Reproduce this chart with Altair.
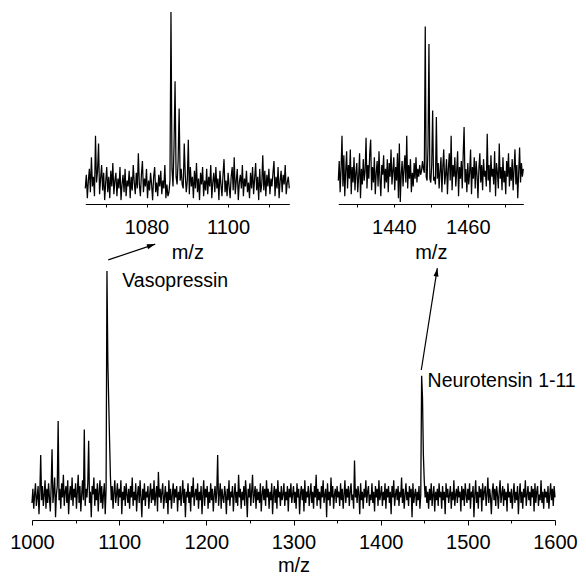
import math
import altair as alt
import pandas as pd

# ---------------- data ----------------
# main spectrum: m/z 1000..1600, one reading per m/z unit
MAIN_START = 1000
MAIN_STEP = 1.0
main_intensity = [
    6, 11, 4, 9, 13, 5, 8, 12, 2, 10,
    23, 7, 12, 5, 9, 14, 4, 11, 6, 13,
    8, 3, 12, 25, 6, 10, 15, 1, 9, 12,
    35, 7, 11, 4, 13, 8, 16, 5, 10, 12,
    6, 14, 2, 9, 12, 7, 15, 5, 11, 8,
    13, 4, 10, 16, 6, 12, 3, 9, 14, 7,
    32, 5, 11, 8, 13, 28, 6, 10, 1, 12,
    9, 15, 5, 11, 7, 13, 3, 10, 14, 6,
    12, 4, 9, 13, 2, 11, 88, 56, 42, 28,
    15, 7, 12, 4, 10, 14, 6, 9, 13, 5,
    11, 8, 14, 2, 10, 7, 12, 5, 13, 9,
    6, 11, 4, 12, 8, 15, 5, 10, 7, 13,
    3, 9, 12, 6, 14, 8, 1, 11, 7, 13,
    5, 10, 8, 12, 4, 9, 13, 6, 11, 7,
    14, 5, 9, 12, 3, 17, 8, 11, 6, 10,
    13, 4, 8, 12, 6, 10, 2, 14, 7, 11,
    4, 9, 13, 6, 11, 8, 12, 3, 10, 7,
    12, 5, 9, 14, 6, 11, 1, 10, 8, 13,
    6, 10, 3, 12, 8, 15, 5, 9, 11, 7,
    13, 4, 10, 7, 12, 2, 9, 14, 5, 11,
    8, 12, 4, 10, 6, 13, 7, 11, 3, 9,
    12, 6, 10, 23, 5, 9, 13, 4, 11, 8,
    6, 12, 9, 2, 11, 7, 14, 5, 10, 8,
    12, 3, 9, 13, 6, 10, 5, 16, 8, 11,
    4, 10, 7, 12, 5, 14, 9, 1, 11, 8,
    13, 5, 10, 16, 6, 9, 12, 4, 11, 7,
    10, 6, 13, 3, 9, 12, 7, 11, 5, 14,
    8, 11, 4, 10, 7, 13, 2, 9, 12, 6,
    11, 4, 14, 8, 10, 5, 12, 7, 9, 13,
    5, 10, 7, 12, 3, 11, 8, 13, 6, 9,
    12, 6, 10, 4, 13, 8, 11, 2, 9, 12,
    7, 11, 3, 14, 6, 10, 8, 12, 5, 9,
    13, 6, 10, 4, 12, 8, 16, 5, 11, 7,
    10, 4, 12, 8, 14, 6, 9, 11, 1, 13,
    7, 10, 5, 15, 8, 12, 4, 9, 11, 6,
    12, 8, 10, 5, 13, 7, 11, 4, 9, 14,
    6, 11, 8, 12, 5, 10, 13, 7, 9, 4,
    21, 8, 11, 6, 12, 9, 2, 13, 7, 10,
    4, 11, 8, 14, 6, 10, 12, 5, 9, 7,
    13, 6, 10, 3, 12, 8, 11, 5, 14, 7,
    9, 12, 5, 10, 7, 13, 4, 11, 8, 12,
    6, 10, 2, 12, 8, 14, 5, 9, 11, 7,
    12, 5, 10, 8, 15, 6, 11, 4, 9, 13,
    7, 10, 5, 12, 8, 11, 1, 13, 6, 9,
    11, 5, 10, 7, 12, 4, 9, 51, 43, 23,
    14, 8, 12, 6, 10, 4, 11, 7, 13, 5,
    9, 12, 3, 10, 7, 11, 5, 13, 8, 10,
    4, 12, 7, 10, 2, 13, 8, 11, 6, 9,
    12, 4, 10, 7, 14, 5, 9, 11, 6, 12,
    8, 10, 3, 12, 7, 11, 5, 13, 9, 6,
    11, 7, 13, 4, 10, 8, 12, 1, 9, 14,
    6, 10, 4, 12, 8, 11, 3, 13, 7, 10,
    12, 5, 9, 15, 6, 11, 8, 2, 10, 13,
    7, 11, 5, 12, 9, 4, 10, 14, 6, 9,
    12, 5, 11, 7, 10, 3, 13, 8, 10, 6,
    11, 4, 9, 13, 6, 10, 7, 12, 2, 9,
    13, 6, 10, 4, 11, 8, 14, 5, 9, 12,
    7, 10, 5, 12, 8, 11, 3, 13, 6, 10,
    12, 5, 9, 7, 14, 6, 10, 4, 11, 8,
    10, 6, 12, 4, 9, 13, 7, 11, 5, 12,
    8,
]

# inset 1: m/z 1065..1115, reading every 0.25 m/z
INSET1_START = 1065
INSET_STEP = 0.25
inset1_intensity = [
    8, 15, 3, 12, 18, 6, 24, 9, 14, 4, 35, 11, 17, 31, 5, 13, 20, 7, 16, 2,
    11, 19, 6, 14, 3, 17, 9, 21, 5, 12, 16, 4, 13, 8, 19, 2, 10, 15, 6, 18,
    4, 12, 9, 17, 3, 14, 7, 20, 11, 5, 16, 8, 26, 10, 4, 15, 22, 6, 13, 9,
    18, 3, 12, 7, 16, 10, 2, 14, 19, 6, 11, 4, 15, 9, 17, 5, 12, 8, 20, 3,
    10, 4, 6, 12, 98.5, 18, 9, 30, 63, 14, 10, 22, 49, 12, 18, 10, 8, 31, 15, 6,
    12, 33, 5, 19, 9, 14, 3, 17, 8, 21, 6, 13, 2, 16, 10, 19, 4, 12, 7, 18,
    5, 14, 9, 20, 3, 11, 16, 6, 19, 8, 13, 2, 17, 10, 4, 15, 23, 6, 12, 4,
    16, 9, 3, 14, 19, 7, 24, 5, 12, 18, 2, 11, 15, 8, 20, 4, 13, 9, 17, 6,
    11, 3, 16, 8, 19, 5, 13, 21, 7, 14, 2, 18, 6, 10, 25, 7, 17, 4, 15, 9,
    18, 5, 13, 9, 16, 22, 4, 14, 8, 19, 3, 12, 17, 6, 15, 10, 20, 5, 11, 14,
    8,
]

# inset 2: m/z 1425..1475, reading every 0.25 m/z
INSET2_START = 1425
inset2_intensity = [
    12, 22, 6, 18, 35, 9, 25, 4, 17, 27, 8, 20, 13, 28, 5, 19, 11, 24, 7, 16,
    21, 6, 14, 26, 3, 18, 10, 23, 12, 17, 34, 8, 20, 13, 26, 33, 7, 19, 11, 24,
    5, 16, 22, 9, 27, 13, 4, 20, 15, 25, 8, 18, 11, 23, 6, 21, 14, 28, 10, 17,
    24, 7, 19, 12, 26, 3, 31, 1, 15, 22, 9, 18, 25, 11, 35, 8, 20, 13, 23, 6,
    16, 9, 21, 13, 24, 11, 18, 14, 20, 15, 17, 22, 18, 16, 91, 14, 12, 30, 82, 13,
    11, 20, 48, 12, 14, 10, 44.6, 13, 21, 8, 17, 24, 6, 19, 28, 10, 15, 23, 5, 18,
    26, 12, 35, 7, 20, 14, 24, 9, 17, 27, 4, 19, 13, 22, 8, 25, 39.5, 11, 18, 6,
    21, 10, 16, 28, 5, 19, 13, 24, 8, 22, 15, 3, 18, 26, 11, 20, 7, 23, 14, 17,
    9, 36, 12, 20, 6, 25, 14, 18, 10, 27, 4, 21, 16, 8, 31, 13, 19, 7, 24, 11,
    17, 5, 22, 14, 26, 9, 19, 12, 23, 7, 18, 28, 10, 20, 3, 16, 29, 11, 21, 14,
    18,
]

# annotations (m/z, intensity in main-plot units)
label_text = ["Vasopressin", "Neurotensin 1-11"]
label_mz = [1103.6, 1453.8]
label_int = [82.3, 47.0]

arrow_mz = [1087.5, 1446.6]
arrow_int = [91.9, 53.0]
arrow_mz2 = [1141.4, 1465.0]
arrow_int2 = [97.5, 89.0]

main_ticks = [1000, 1050, 1100, 1150, 1200, 1250, 1300, 1350, 1400, 1450, 1500, 1550, 1600]
inset1_ticks = [1070, 1080, 1090, 1100, 1110]
inset2_ticks = [1430, 1440, 1450, 1460, 1470]

# ---------------- layout / style ----------------
FONT = "Liberation Sans"
MAIN_W, MAIN_H = 523, 283
IN_H = 195
IN1_RANGE = [53.3, 257.3]   # pixel span of inset 1 inside the top panel
IN2_RANGE = [306.3, 491.3]  # pixel span of inset 2 inside the top panel
MAIN_DOMAIN = [1000, 1600]
IN1_DOMAIN = [1065, 1115]
IN2_DOMAIN = [1425, 1475]
Y_DOMAIN = [0, 100]

main_df = pd.DataFrame({
    "mz": [MAIN_START + MAIN_STEP * i for i in range(len(main_intensity))],
    "intensity": main_intensity,
})
in1_df = pd.DataFrame({
    "mz1": [INSET1_START + INSET_STEP * i for i in range(len(inset1_intensity))],
    "i1": inset1_intensity,
})
in2_df = pd.DataFrame({
    "mz2": [INSET2_START + INSET_STEP * i for i in range(len(inset2_intensity))],
    "i2": inset2_intensity,
})
lab_df = pd.DataFrame({"mz": label_mz, "intensity": label_int, "label": label_text})

sx = MAIN_W / (MAIN_DOMAIN[1] - MAIN_DOMAIN[0])
sy = MAIN_H / (Y_DOMAIN[1] - Y_DOMAIN[0])
arr_df = pd.DataFrame({
    "mz": arrow_mz, "intensity": arrow_int,
    "mz2": arrow_mz2, "intensity2": arrow_int2,
})
arr_df["angle"] = [
    math.degrees(math.atan2((b - a) * sx, (d - c) * sy))
    for a, b, c, d in zip(arrow_mz, arrow_mz2, arrow_int, arrow_int2)
]

main_axis = alt.Axis(
    values=main_ticks, format="d",
    labelExpr="datum.value % 100 === 0 ? datum.label : ''",
    tickSize={"condition": {"test": "datum.value % 100 === 0", "value": 5}, "value": 3},
    labelPadding=7, titlePadding=3, labelFlush=False, labelOverlap=False,
)
x_main = alt.X("mz:Q", scale=alt.Scale(domain=MAIN_DOMAIN, nice=False, zero=False),
               axis=main_axis, title="m/z")
y_main = alt.Y("intensity:Q", scale=alt.Scale(domain=Y_DOMAIN, nice=False), axis=None)

line_main = alt.Chart(main_df).mark_line(color="black", strokeWidth=1.3).encode(x=x_main, y=y_main)
texts = alt.Chart(lab_df).mark_text(
    align="left", baseline="alphabetic", font=FONT, fontSize=19.5, color="black"
).encode(x=x_main, y=y_main, text="label:N")
rules = alt.Chart(arr_df).mark_rule(color="black", strokeWidth=1.2).encode(
    x=x_main, y=y_main, x2="mz2:Q", y2="intensity2:Q")
heads = alt.Chart(arr_df).mark_point(
    shape="M0,0L-0.3,1L0.3,1Z", filled=True, color="black", size=280, opacity=1
).encode(x=alt.X("mz2:Q"), y=alt.Y("intensity2:Q"), angle=alt.Angle("angle:Q", scale=None))

main = alt.layer(line_main, texts, rules, heads).properties(width=MAIN_W, height=MAIN_H)


def inset(df, xf, yf, domain, rng, ticks):
    ax = alt.Axis(
        values=ticks, format="d", orient="bottom",
        labelExpr="datum.value % 20 === 0 ? datum.label : ''",
        tickSize=3, labelPadding=10, titlePadding=5, labelFlush=False, labelOverlap=False,
    )
    return alt.Chart(df).mark_line(color="black", strokeWidth=1.25).encode(
        x=alt.X(f"{xf}:Q", scale=alt.Scale(domain=domain, range=rng, nice=False, zero=False),
                axis=ax, title="m/z"),
        y=alt.Y(f"{yf}:Q", scale=alt.Scale(domain=Y_DOMAIN, nice=False), axis=None),
    )


top = alt.layer(
    inset(in1_df, "mz1", "i1", IN1_DOMAIN, IN1_RANGE, inset1_ticks),
    inset(in2_df, "mz2", "i2", IN2_DOMAIN, IN2_RANGE, inset2_ticks),
).resolve_scale(x="independent", y="independent").resolve_axis(x="independent").properties(
    width=MAIN_W, height=IN_H
)

chart = alt.vconcat(top, main, spacing=33, bounds="flush").resolve_scale(
    x="independent", y="independent"
).properties(
    padding={"left": 1, "top": 1, "right": 0, "bottom": 0}
).configure_axis(
    labelFont=FONT, titleFont=FONT, labelFontSize=20, titleFontSize=20,
    titleFontWeight="normal", labelColor="black", titleColor="black",
    domainColor="black", tickColor="black", domainWidth=1, tickWidth=1, grid=False,
).configure_view(stroke=None)

chart.save("out.html", embed_options={"renderer": "svg", "actions": False})
